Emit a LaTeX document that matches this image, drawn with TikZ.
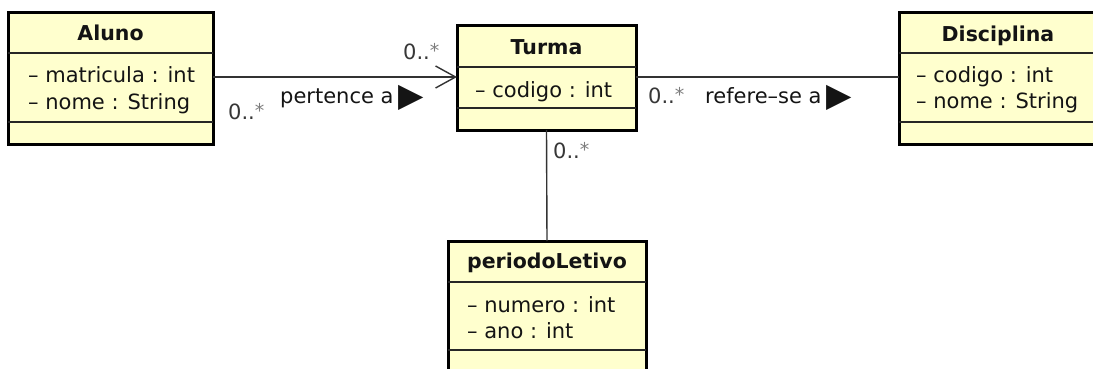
\documentclass[tikz,border=0pt]{standalone}
\usepackage{fontspec}
\setmainfont{DejaVu Sans}
\usetikzlibrary{arrows.meta}
\definecolor{classfill}{RGB}{255,255,206}
\definecolor{inkc}{RGB}{20,20,20}
\definecolor{multc}{RGB}{55,55,55}
\definecolor{starc}{RGB}{125,125,125}
\newcommand{\multtext}{{\color{multc}0..}{\color{starc}\fontsize{19}{19}\selectfont\raisebox{2pt}{*}}}
\newcommand{\trisym}{{\fontsize{33}{33}\selectfont\raisebox{-3pt}{▶}}}
\tikzset{
  classbox/.style={draw=black,line width=3pt,fill=classfill,rectangle,inner sep=0pt,outer sep=0pt},
  sepline/.style={line width=1.5pt,draw=black!85},
  titletext/.style={font=\fontsize{20.5}{24}\selectfont\bfseries,anchor=base,inner sep=0pt,text=inkc},
  attrtext/.style={font=\fontsize{21}{24}\selectfont,anchor=base west,inner sep=0pt,text=inkc},
  assoc/.style={line width=1.4pt,draw=black!80},
  lbltext/.style={font=\fontsize{21}{24}\selectfont,anchor=base west,inner sep=0pt,text=inkc},
}
\begin{document}
\begin{tikzpicture}[x=1pt,y=-1pt]
\useasboundingbox (0,0) rectangle (1093,369);
\fill[white] (0,0) rectangle (1093,369);
\clip (0,0) rectangle (1093,369);

% classes
\node[classbox,minimum width=205pt,minimum height=131pt] (Aluno) at (110.5,78.5) {};
\node[classbox,minimum width=179pt,minimum height=104pt] (Turma) at (546.5,78) {};
\node[classbox,minimum width=198pt,minimum height=131pt] (Disc) at (998,78.5) {};
\node[classbox,minimum width=198pt,minimum height=131pt] (Per) at (547,306.5) {};

% compartments
\draw[sepline] (Aluno.west |- 0,53) -- (Aluno.east |- 0,53);
\draw[sepline] (Aluno.west |- 0,122) -- (Aluno.east |- 0,122);
\draw[sepline] (Turma.west |- 0,67) -- (Turma.east |- 0,67);
\draw[sepline] (Turma.west |- 0,108) -- (Turma.east |- 0,108);
\draw[sepline] (Disc.west |- 0,53) -- (Disc.east |- 0,53);
\draw[sepline] (Disc.west |- 0,122) -- (Disc.east |- 0,122);
\draw[sepline] (Per.west |- 0,282) -- (Per.east |- 0,282);
\draw[sepline] (Per.west |- 0,350) -- (Per.east |- 0,350);

% texts
\node[titletext] (tA) at (110.5,41) {Aluno};
\node[attrtext] (a1) at (28,83) {– matricula : int};
\node[attrtext] (a2) at (28,110) {– nome : String};
\node[titletext] (tT) at (546.5,55) {Turma};
\node[attrtext] (t1) at (475,97) {– codigo : int};
\node[titletext] (tD) at (998,42) {Disciplina};
\node[attrtext] (d1) at (916,83) {– codigo : int};
\node[attrtext] (d2) at (916,109) {– nome : String};
\node[titletext] (tP) at (547,268) {periodoLetivo};
\node[attrtext] (p1) at (467,312) {– numero : int};
\node[attrtext] (p2) at (467,338) {– ano : int};

% associations
\draw[assoc,-{Straight Barb[length=20pt,width=22pt,line width=1.4pt]}] (Aluno.east |- 0,77) -- (Turma.west |- 0,77);
\draw[assoc] (Turma.east |- 0,77) -- (Disc.west |- 0,77);
\draw[assoc] (Turma.south) -- (Per.north);

% labels
\node[lbltext] (m1) at (403,60) {\multtext};
\node[lbltext] (m2) at (228,120) {\multtext};
\node[lbltext] (l1) at (280,103) {pertence a\kern5pt\trisym};
\node[lbltext] (m3) at (648,103) {\multtext};
\node[lbltext] (l2) at (705,103) {refere–se a\kern5pt\trisym};
\node[lbltext] (m4) at (553,158) {\multtext};
\end{tikzpicture}
\end{document}
